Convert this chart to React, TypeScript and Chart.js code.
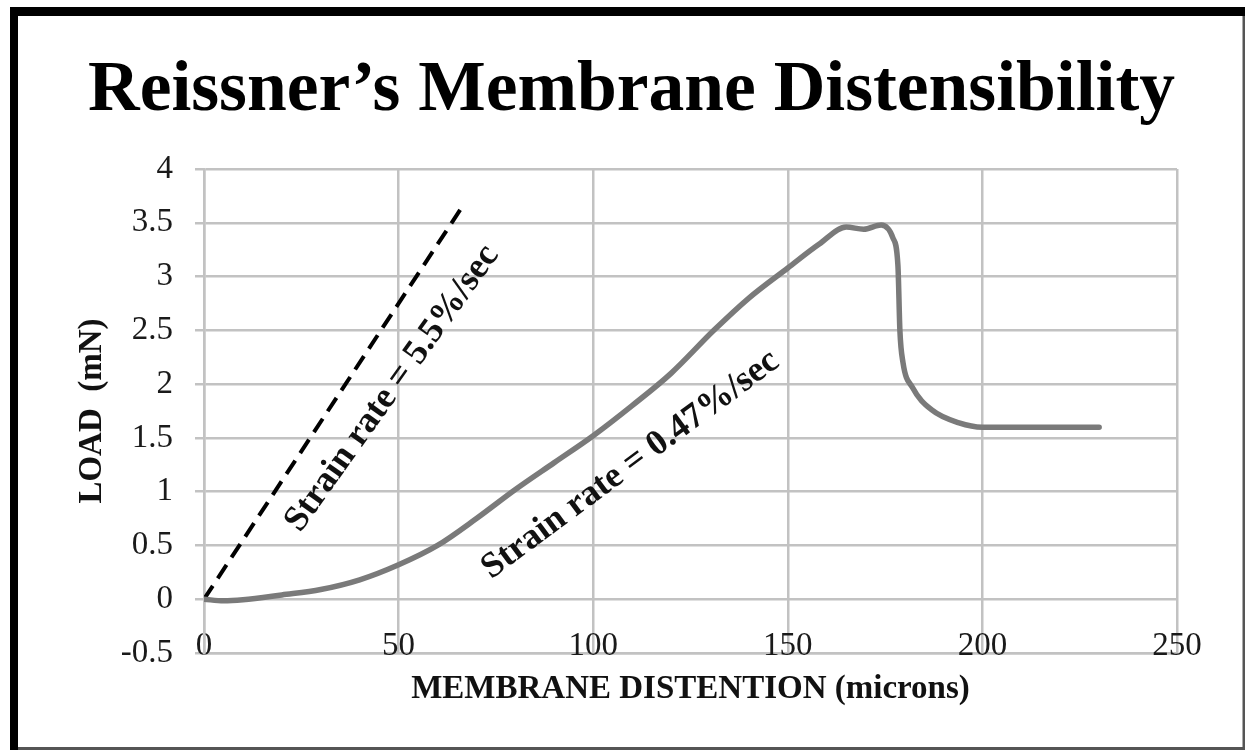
import React, { useEffect, useRef } from "react";
import { Chart, registerables } from "chart.js";

Chart.register(...registerables);

// ---- text ----
const chartTitle = "Reissner\u2019s Membrane Distensibility";
const xAxisTitle = "MEMBRANE DISTENTION (microns)";
const yAxisTitle = "LOAD  (mN)";

// ---- slow strain rate curve (0.47%/sec) ----
const distention = [0, 5, 10, 20, 30, 40, 50, 60, 70, 80, 90, 100, 110, 120, 131, 140, 150, 158, 165, 169.5, 174, 177, 178.3, 178.8, 179.6, 182, 187, 194, 200, 215, 230];
const load = [0, -0.015, -0.005, 0.04, 0.09, 0.18, 0.32, 0.5, 0.75, 1.02, 1.27, 1.52, 1.8, 2.1, 2.5, 2.8, 3.08, 3.3, 3.46, 3.44, 3.48, 3.36, 3.1, 2.5, 2.2, 1.97, 1.76, 1.64, 1.6, 1.6, 1.6];

// ---- fast strain rate line (5.5%/sec) ----
const fastDistention = [0, 66];
const fastLoad = [0, 3.63];

// ---- ticks ----
const xTicks = [0, 50, 100, 150, 200, 250];
const yTicks = [-0.5, 0, 0.5, 1, 1.5, 2, 2.5, 3, 3.5, 4];

// ---- annotations ----
const annotationTexts = ["Strain rate = 5.5%/sec", "Strain rate = 0.47%/sec"];
const annotationX = [50.3, 111];
const annotationY = [1.91, 1.18];
const annotationAngle = [-54.5, -36.5];

const FONT = '"Liberation Serif", "Times New Roman", serif';
const GRID = "#c2c2c2";

const decorPlugin = {
  id: "decor",
  beforeDraw(chart: any) {
    const ctx = chart.ctx;
    const W = chart.width;
    const H = chart.height;
    ctx.save();
    ctx.fillStyle = "#ffffff";
    ctx.fillRect(0, 0, W, H);
    // frame
    ctx.fillStyle = "#000000";
    ctx.fillRect(10, 7, W - 10, 9);
    ctx.fillRect(10, 7, 8, H - 7);
    ctx.fillStyle = "#555555";
    ctx.fillRect(W - 2.5, 16, 2.5, H - 16);
    ctx.fillRect(18, H - 3, W - 18, 3);
    ctx.restore();
  },
  afterDatasetsDraw(chart: any) {
    const ctx = chart.ctx;
    const xs = chart.scales.x;
    const ys = chart.scales.y;
    ctx.save();
    ctx.fillStyle = "#111111";
    ctx.font = `bold 36px ${FONT}`;
    ctx.textAlign = "center";
    ctx.textBaseline = "alphabetic";
    annotationTexts.forEach((t, i) => {
      const px = xs.getPixelForValue(annotationX[i]);
      const py = ys.getPixelForValue(annotationY[i]);
      ctx.save();
      ctx.translate(px, py);
      ctx.rotate((annotationAngle[i] * Math.PI) / 180);
      ctx.fillText(t, 0, 0);
      ctx.restore();
    });
    ctx.restore();
  },
  afterDraw(chart: any) {
    const ctx = chart.ctx;
    ctx.save();
    ctx.fillStyle = "#000000";
    ctx.font = `bold 71.5px ${FONT}`;
    ctx.textAlign = "center";
    ctx.textBaseline = "alphabetic";
    ctx.fillText(chartTitle, 631.5, 110);
    ctx.restore();
  },
};

export default function App() {
  const canvasRef = useRef<HTMLCanvasElement | null>(null);

  useEffect(() => {
    const canvas = canvasRef.current;
    if (!canvas) return;
    const chart = new Chart(canvas, {
      type: "line",
      data: {
        datasets: [
          {
            label: "Strain rate = 0.47%/sec",
            data: distention.map((x, i) => ({ x, y: load[i] })),
            borderColor: "#7a7a7a",
            borderWidth: 5.5,
            pointRadius: 0,
            cubicInterpolationMode: "monotone",
            fill: false,
            borderCapStyle: "round",
            borderJoinStyle: "round",
          },
          {
            label: "Strain rate = 5.5%/sec",
            data: fastDistention.map((x, i) => ({ x, y: fastLoad[i] })),
            borderColor: "#000000",
            borderWidth: 4,
            borderDash: [16, 9],
            pointRadius: 0,
            fill: false,
          },
        ],
      } as any,
      options: {
        responsive: false,
        animation: false,
        devicePixelRatio: 1,
        layout: { padding: { top: 169, left: 60, right: 68, bottom: 30 } },
        plugins: {
          legend: { display: false },
          tooltip: { enabled: false },
          title: { display: false },
        },
        scales: {
          x: {
            type: "linear",
            min: 0,
            max: 250,
            afterFit: (s: any) => {
              s.height = 67;
            },
            afterBuildTicks: (s: any) => {
              s.ticks = xTicks.map((v) => ({ value: v }));
            },
            grid: { color: GRID, lineWidth: 2.5, drawTicks: false },
            border: { color: GRID, width: 2.5 },
            ticks: {
              mirror: true,
              padding: -13,
              maxRotation: 0,
              autoSkip: false,
              color: "#1a1a1a",
              font: { family: FONT, size: 33 },
              callback: (v: any) => String(v),
            },
            title: {
              display: true,
              text: xAxisTitle,
              color: "#111111",
              font: { family: FONT, size: 33, weight: "bold" },
              padding: { top: 0, bottom: 11 },
            },
          },
          y: {
            type: "linear",
            min: -0.5,
            max: 4,
            afterFit: (s: any) => {
              s.width = 144;
            },
            afterBuildTicks: (s: any) => {
              s.ticks = yTicks.map((v) => ({ value: v }));
            },
            grid: { color: GRID, lineWidth: 2.5, drawTicks: true, tickLength: 9 },
            border: { color: GRID, width: 2.5 },
            ticks: {
              padding: 22,
              autoSkip: false,
              color: "#1a1a1a",
              font: { family: FONT, size: 33 },
              callback: (v: any) => String(v),
            },
            title: {
              display: true,
              text: yAxisTitle,
              color: "#111111",
              font: { family: FONT, size: 33, weight: "bold" },
              padding: { top: 13, bottom: 0 },
            },
          },
        },
      } as any,
      plugins: [decorPlugin],
    });
    return () => chart.destroy();
  }, []);

  return (
    <div style={{ position: "fixed", left: 0, top: 0, width: 1245, height: 750, background: "#fff" }}>
      <canvas ref={canvasRef} width={1245} height={750} style={{ width: 1245, height: 750, display: "block" }} />
    </div>
  );
}
